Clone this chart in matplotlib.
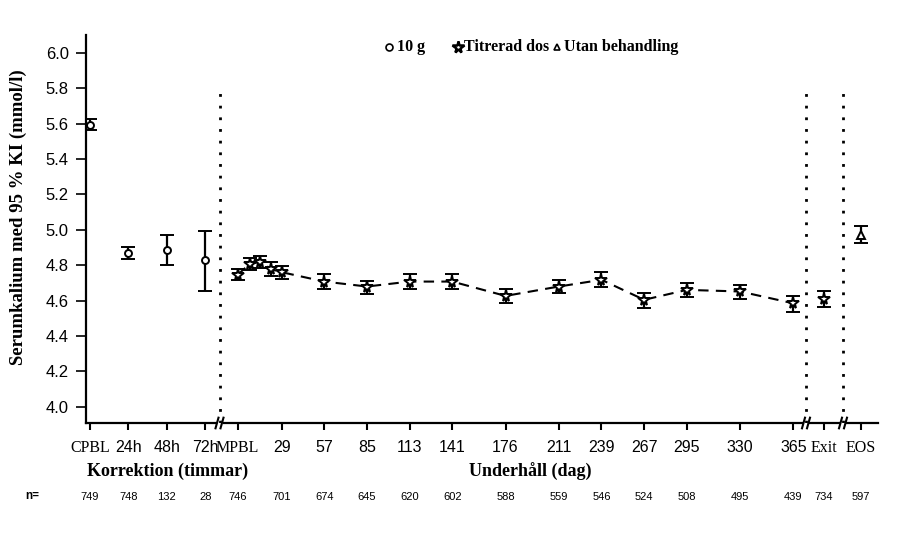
import numpy as np
import matplotlib.pyplot as plt
from matplotlib.lines import Line2D

# correction phase (hours)
corr_labels = ["CPBL", "24h", "48h", "72h"]
corr_mean = [5.593, 4.870, 4.887, 4.830]
corr_lo = [5.562, 4.834, 4.802, 4.651]
corr_hi = [5.626, 4.904, 4.972, 4.994]
corr_n = [749, 748, 132, 28]

# maintenance phase (days)
maint_days = [0, 8, 15, 22, 29, 57, 85, 113, 141, 176, 211, 239, 267, 295, 330, 365]
maint_mean = [4.745, 4.806, 4.819, 4.778, 4.760, 4.707, 4.679, 4.707, 4.707,
              4.626, 4.679, 4.717, 4.604, 4.660, 4.651, 4.584]
maint_lo = [4.717, 4.770, 4.783, 4.740, 4.720, 4.666, 4.636, 4.666, 4.666,
            4.585, 4.640, 4.679, 4.557, 4.619, 4.610, 4.534]
maint_hi = [4.778, 4.838, 4.849, 4.815, 4.796, 4.751, 4.713, 4.749, 4.749,
            4.666, 4.717, 4.760, 4.642, 4.698, 4.685, 4.626]
maint_tick_days = [0, 29, 57, 85, 113, 141, 176, 211, 239, 267, 295, 330, 365]
maint_tick_labels = ["MPBL"] + [str(d) for d in maint_tick_days[1:]]
maint_n = [746, 701, 674, 645, 620, 602, 588, 559, 546, 524, 508, 495, 439]

# exit / end of study
exit_mean, exit_lo, exit_hi, exit_n = 4.609, 4.566, 4.653, 734
eos_mean, eos_lo, eos_hi, eos_n = 4.972, 4.925, 5.023, 597


# layout: x axis in figure-pixel-like units
def corr_x(i):
    return 90 + 38.4 * np.asarray(i)


def maint_x(d):
    return 237.5 + 1.523 * np.asarray(d)


EXIT_X, EOS_X = 824, 861
BREAKS = [219.5, 806, 843]
XMIN, XMAX = 86, 878
YMIN, YMAX = 3.908, 6.10

serif = "Liberation Serif"
sans = "Liberation Sans"

fig = plt.figure(figsize=(9.15, 5.38), dpi=100)
ax = fig.add_axes([XMIN / 915, 1 - 423 / 538, (XMAX - XMIN) / 915, (423 - 35) / 538])
ax.set_xlim(XMIN, XMAX)
ax.set_ylim(YMIN, YMAX)

ekw = dict(color="black", ecolor="black", elinewidth=1.6, capsize=4.8, capthick=1.6,
           markeredgecolor="black", markerfacecolor="white", markeredgewidth=1.4, zorder=3)


def yerr(m, lo, hi):
    m, lo, hi = np.asarray(m), np.asarray(lo), np.asarray(hi)
    return np.vstack([m - lo, hi - m])


ax.errorbar(corr_x(range(4)), corr_mean, yerr=yerr(corr_mean, corr_lo, corr_hi),
            fmt="o", markersize=5, **ekw)
ax.plot(maint_x(maint_days), maint_mean, color="black", lw=1.5, ls=(0, (5, 3.5)), zorder=2)
ax.errorbar(maint_x(maint_days), maint_mean, yerr=yerr(maint_mean, maint_lo, maint_hi),
            fmt="*", markersize=8.5, **ekw)
ax.errorbar([EXIT_X], [exit_mean], yerr=yerr([exit_mean], [exit_lo], [exit_hi]),
            fmt="*", markersize=8.5, **ekw)
ax.errorbar([EOS_X], [eos_mean], yerr=yerr([eos_mean], [eos_lo], [eos_hi]),
            fmt="^", markersize=5.5, **ekw)

# dotted separators
for bx in BREAKS:
    ax.plot([bx, bx], [YMIN, 5.79], color="black", lw=2, ls=(0, (1, 3.2)), zorder=1)

# spines
for s in ["top", "right", "bottom"]:
    ax.spines[s].set_visible(False)
ax.spines["left"].set_linewidth(1.6)

# bottom axis with breaks
edges = [XMIN] + [v for b in BREAKS for v in (b - 4, b + 4)] + [XMAX]
for a, b in zip(edges[0::2], edges[1::2]):
    ax.plot([a, b], [YMIN, YMIN], color="black", lw=1.6, clip_on=False, zorder=4)
dy = 0.03
for bx in BREAKS:
    for off in (-2.5, 2.5):
        ax.plot([bx + off - 1.5, bx + off + 1.5], [YMIN - dy, YMIN + dy], color="black",
                lw=1.5, clip_on=False, zorder=4)

yt = np.round(np.arange(4.0, 6.01, 0.2), 1)
ax.set_yticks(yt)
ax.set_yticklabels([f"{v:.1f}" for v in yt], fontfamily=sans, fontsize=12)
ax.tick_params(axis="y", direction="out", length=7.5, width=1.2, pad=5)

tick_x = list(corr_x(range(4))) + list(maint_x(maint_tick_days)) + [EXIT_X, EOS_X]
tick_lab = corr_labels + maint_tick_labels + ["Exit", "EOS"]
ax.set_xticks(tick_x)
ax.set_xticklabels(tick_lab)
for t in ax.get_xticklabels():
    if t.get_text() in ("CPBL", "MPBL", "Exit", "EOS"):
        t.set_fontfamily(serif)
        t.set_fontsize(11.5)
    else:
        t.set_fontfamily(sans)
        t.set_fontsize(11.5)
ax.tick_params(axis="x", direction="out", length=5, width=1.5, pad=7)

ax.set_ylabel("Serumkalium med 95 % KI (mmol/l)", fontfamily=serif, fontweight="bold",
              fontsize=13.5)
ax.yaxis.set_label_coords(-0.075, 0.53)

# phase labels
trans = ax.get_xaxis_transform()
ax.text(168, -0.125, "Korrektion (timmar)", transform=trans, ha="center", va="center",
        fontfamily=serif, fontweight="bold", fontsize=13)
ax.text(530, -0.125, "Underhåll (dag)", transform=trans, ha="center", va="center",
        fontfamily=serif, fontweight="bold", fontsize=13)

# n row
n_vals = corr_n + maint_n + [exit_n, eos_n]
for x, n in zip(tick_x, n_vals):
    ax.text(x, -0.19, str(n), transform=trans, ha="center", va="center",
            fontfamily=sans, fontsize=8)
fig.text(25 / 915, 1 - 496 / 538, "n=", ha="left", va="center", fontfamily=sans,
         fontsize=8.5, fontweight="bold")

# legend
ly = 1 - 47 / 538
for mx, mk, ms, tx, lab in [(389, "o", 5, 397, "10 g"),
                            (458, "*", 8.5, 464, "Titrerad dos"),
                            (557, "^", 5, 564, "Utan behandling")]:
    fig.add_artist(Line2D([mx / 915], [ly], marker=mk, markersize=ms, color="black",
                          markerfacecolor="white", markeredgewidth=1.2 if mk != "*" else 1.8,
                          linestyle="none"))
    fig.text(tx / 915, ly, lab, ha="left", va="center", fontfamily=serif,
             fontweight="bold", fontsize=11.5)

fig.savefig("out.png", dpi=100)
